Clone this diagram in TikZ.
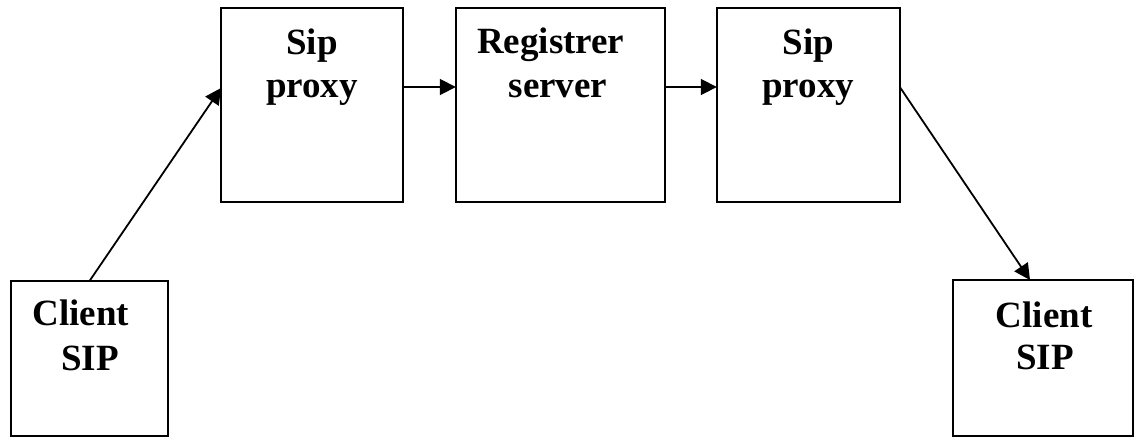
\documentclass[tikz,border=0pt]{standalone}
\usepackage{fontspec}
\setmainfont{Liberation Serif}
\usetikzlibrary{arrows.meta}
\begin{document}
\begin{tikzpicture}[x=1pt,y=-1pt,
  box/.style={draw,line width=2.2pt,inner sep=0pt,outer sep=0pt},
  lbl/.style={font=\fontsize{37}{43}\selectfont\bfseries,anchor=base,inner sep=0pt},
  conn/.style={line width=1.8pt,-{Triangle[length=16pt,width=16pt]}}]
\useasboundingbox (0,0) rectangle (1137,437);
% boxes
\node[box,minimum width=157pt,minimum height=155pt] (c1) at (89.5,358.5) {};
\node[box,minimum width=182pt,minimum height=194pt] (p1) at (312,105) {};
\node[box,minimum width=209pt,minimum height=194pt] (r) at (560.3,105) {};
\node[box,minimum width=183pt,minimum height=194pt] (p2) at (808.3,105) {};
\node[box,minimum width=180pt,minimum height=156pt] (c2) at (1043,358) {};
% texts
\node[lbl] (t1a) at (81,325.7) {Client};
\node[lbl] (t1b) at (90,370) {SIP};
\node[lbl] (t2a) at (312,54) {Sip};
\node[lbl] (t2b) at (312,97) {proxy};
\node[lbl] (t3a) at (550.7,53) {Registrer};
\node[lbl] (t3b) at (558,97) {server};
\node[lbl] (t4a) at (808.3,54) {Sip};
\node[lbl] (t4b) at (808.3,97) {proxy};
\node[lbl] (t5a) at (1044,327) {Client};
\node[lbl] (t5b) at (1045,369) {SIP};
% connectors
\draw[conn] (c1.north) -- ([yshift=17pt]p1.west);
\draw[conn] ([yshift=18pt]p1.east) -- ([yshift=18pt]r.west);
\draw[conn] ([yshift=18pt]r.east) -- ([yshift=18pt]p2.west);
\draw[conn] ([yshift=18pt]p2.east) -- ([xshift=-13pt]c2.north);
\end{tikzpicture}
\end{document}
